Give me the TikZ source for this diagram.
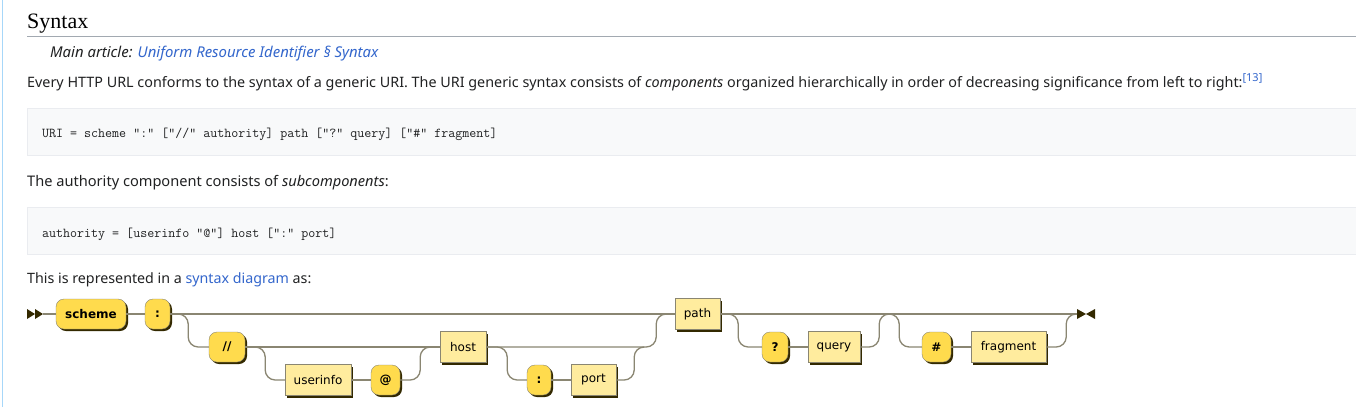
\documentclass[tikz,border=0pt]{standalone}
\usepackage{fontspec}
\usetikzlibrary{positioning}
\usetikzlibrary{shadows}
\newfontfamily\wikisans{Noto Sans}
\newfontfamily\wikiserif{Liberation Serif}
\newfontfamily\rrfont{DejaVu Sans}
\definecolor{wikitext}{HTML}{202122}
\definecolor{wikilink}{HTML}{3366CC}
\definecolor{wikirule}{HTML}{A2A9B1}
\definecolor{codebg}{HTML}{F8F9FA}
\definecolor{codeborder}{HTML}{EAECF0}
\definecolor{pagebar}{HTML}{A7D7F9}
\definecolor{termfill}{HTML}{FFDB4D}
\definecolor{ntermfill}{HTML}{FFEC9E}
\definecolor{rrdark}{HTML}{332900}
\definecolor{rrgrey}{HTML}{8A8672}

\tikzset{
        bodytext/.style={inner sep=0, anchor=base west, text=wikitext, font=\wikisans\fontsize{#1}{17}\selectfont},
        bodytext/.default=14.6,
        codetext/.style={inner sep=0, anchor=base west, text=wikitext, font=\ttfamily\fontsize{13.6}{16}\selectfont},
        codebox/.style={fill=codebg, draw=codeborder, line width=1},
        terminal/.style={draw=rrgrey, fill=termfill, rounded corners=8, minimum height=30, inner sep=0,
                font=\rrfont\bfseries\fontsize{12}{14}\selectfont,
                drop shadow={shadow xshift=2pt, shadow yshift=-2pt, fill=rrdark, opacity=1}},
        nonterminal/.style={draw=rrgrey, fill=ntermfill, minimum height=31, inner sep=0,
                font=\rrfont\fontsize{12}{14}\selectfont,
                drop shadow={shadow xshift=2pt, shadow yshift=-2pt, fill=rrdark, opacity=1}},
        rrline/.style={draw=rrgrey, line width=1.3, rounded corners=10},
        marker/.style={fill=rrdark}
}

\begin{document}
\begin{tikzpicture}[x=1pt, y=-1pt]
        \useasboundingbox[fill=white] (0,0) rectangle (1356,407);
        \draw[pagebar, line width=1] (2.5,0) -- (2.5,407);

        \node[inner sep=0, anchor=base west, text=black, font=\wikiserif\fontsize{22}{26}\selectfont] (title) at (27,28) {Syntax};
        \draw[wikirule, line width=1] (27,36) -- (1356,36);
        \node[bodytext=14.9] (mainart) at (50,57) {\itshape Main article: \textcolor{wikilink}{Uniform Resource Identifier § Syntax}};
        \node[bodytext=14.35] (intro) at (27,87) {Every HTTP URL conforms to the syntax of a generic URI. The URI generic syntax consists of \textit{components} organized hierarchically in order of decreasing significance from left to right:\textcolor{wikilink}{\raisebox{6pt}{\fontsize{11}{12}\selectfont [13]}}};
        \draw[codebox] (27,108) rectangle (1360,155);
        \node[codetext] (urirule) at (42,137) {URI = scheme ":" ["//" authority] path ["?" query] ["\#" fragment]};
        \node[bodytext] (authtext) at (27,186) {The authority component consists of \textit{subcomponents}:};
        \draw[codebox] (27,207) rectangle (1360,254);
        \node[codetext] (authrule) at (42,237) {authority = [userinfo "@"] host [":" port]};
        \node[bodytext=14.25] (diagtext) at (27,283) {This is represented in a \textcolor{wikilink}{syntax diagram} as:};

        \node[terminal, minimum width=70] (scheme) at (91,314) {scheme};
        \node[terminal, minimum width=25] (colon) at (157.5,314) {:};
        \node[terminal, minimum width=36] (slashes) at (227,347) {//};
        \node[nonterminal, minimum width=66] (userinfo) at (318,380) {userinfo};
        \node[terminal, minimum width=29] (atsign) at (385.5,380) {@};
        \node[nonterminal, minimum width=46] (host) at (463,347) {host};
        \node[terminal, minimum width=24] (portcolon) at (539,380) {:};
        \node[nonterminal, minimum width=45] (port) at (593.5,380) {port};
        \node[nonterminal, minimum width=45] (path) at (697.5,314) {path};
        \node[terminal, minimum width=26] (qmark) at (775,347) {?};
        \node[nonterminal, minimum width=52] (query) at (834,347) {query};
        \node[terminal, minimum width=29] (hash) at (936.5,347) {\#};
        \node[nonterminal, minimum width=75] (fragment) at (1008.5,347) {fragment};

        \coordinate (start) at (43,314);
        \coordinate (finish) at (1077,314);
        \fill[marker] (27,309) -- (35,314) -- (27,319) -- cycle (35,309) -- (43,314) -- (35,319) -- cycle;
        \fill[marker] (1077,309) -- (1086,314) -- (1077,319) -- cycle (1095,309) -- (1086,314) -- (1095,319) -- cycle;

        \draw[rrline] (start) -- (scheme);
        \draw[rrline] (scheme) -- (colon);
        \draw[rrline] (colon.east) -- (path.west);
        \draw[rrline] (colon.east) -- ++(18,0) |- (slashes.west);
        \draw[rrline] (slashes.east) -- (host.west);
        \draw[rrline] (slashes.east) -- ++(20,0) |- (userinfo.west);
        \draw[rrline] (userinfo) -- (atsign);
        \draw[rrline] (atsign.east) -- ++(20,0) |- (host.west);
        \draw[rrline] (host.east) -- ++(170,0) |- (path.west);
        \draw[rrline] (host.east) -- ++(21,0) |- (portcolon.west);
        \draw[rrline] (portcolon) -- (port);
        \draw[rrline] (port.east) -- ++(18,0) |- ++(10,-33);
        \draw[rrline] (path.east) -- (finish);
        \draw[rrline] (path.east) -- ++(18,0) |- (qmark.west);
        \draw[rrline] (qmark) -- (query);
        \draw[rrline] (query.east) -- ++(19,0) |- ++(20,-33) |- (hash.west);
        \draw[rrline] (hash) -- (fragment);
        \draw[rrline] (fragment.east) -- ++(20,0) |- (finish);
\end{tikzpicture}
\end{document}
